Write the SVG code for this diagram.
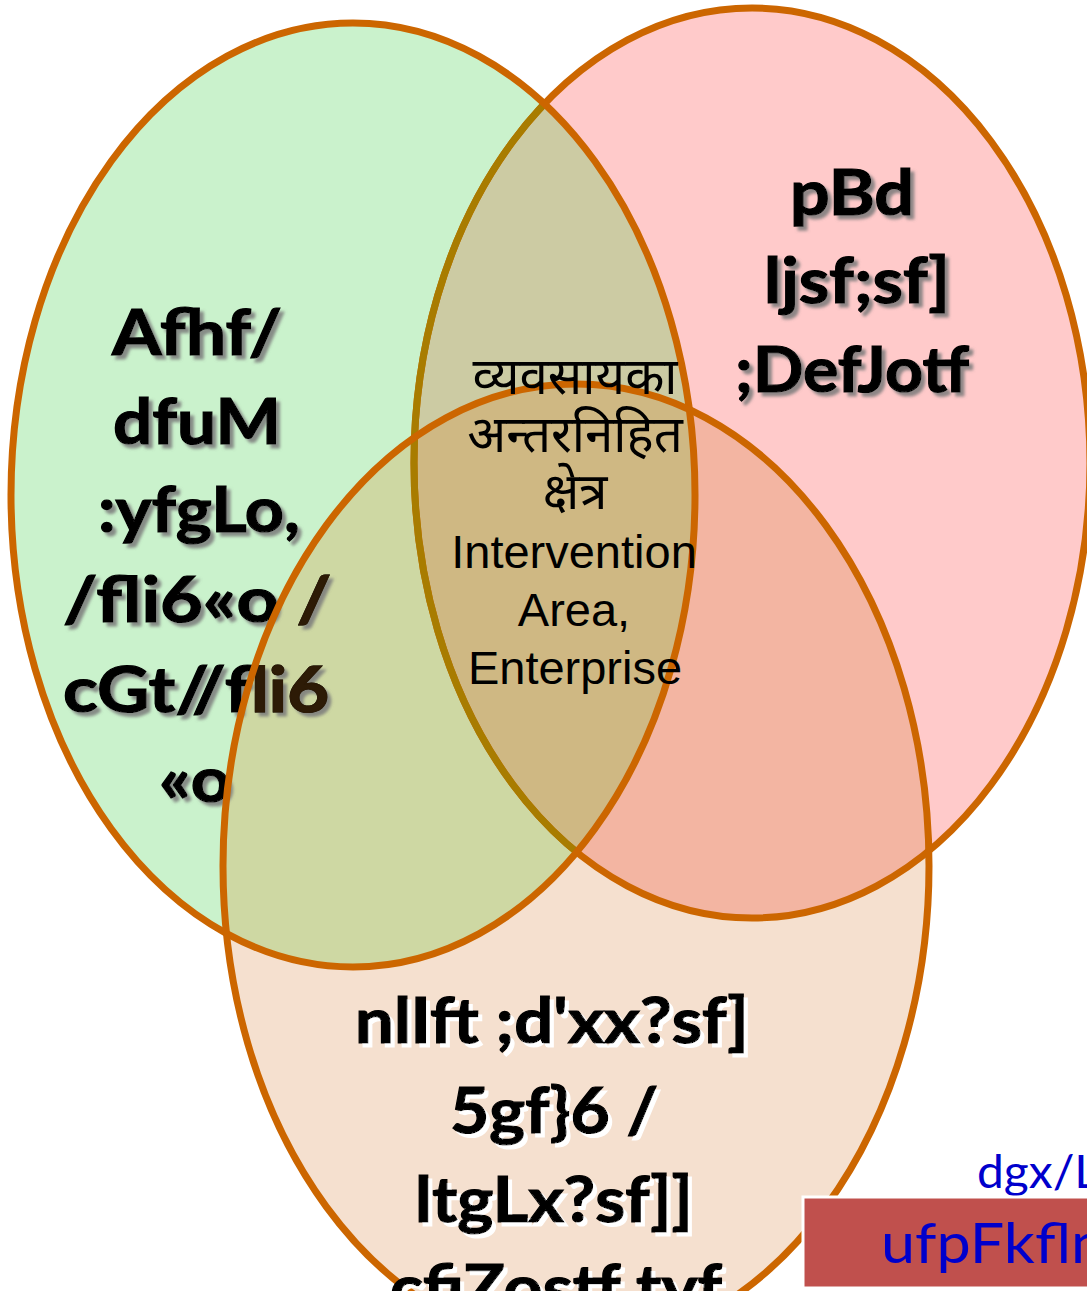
<svg xmlns="http://www.w3.org/2000/svg" xmlns:xlink="http://www.w3.org/1999/xlink" width="1087" height="1291" viewBox="0 0 1087 1291">
<style>
.bold{font-family:Lato,"Open Sans","Liberation Sans",sans-serif;font-weight:700;font-size:63px;text-anchor:middle;stroke-width:1.2px}
.ctr{font-family:"Liberation Sans",Arial,sans-serif;font-size:47px;text-anchor:middle;fill:#000}
.dev{font-family:"Noto Sans Devanagari","Lohit Devanagari","Noto Sans","Liberation Sans",sans-serif;font-size:51px;text-anchor:middle;fill:#000}
.blue{font-family:Lato,"Open Sans","Liberation Sans",sans-serif;fill:#0000cc}
.ring{fill:none;stroke:#cc6600;stroke-width:7}
</style>
<defs>
<clipPath id="cG"><ellipse cx="353" cy="495" rx="342" ry="472"/></clipPath>
<clipPath id="cP"><ellipse cx="752" cy="463" rx="338" ry="455"/></clipPath>
<clipPath id="cB"><ellipse cx="576" cy="866" rx="353" ry="482"/></clipPath>
<filter id="sh" x="-10%" y="-10%" width="130%" height="140%">
<feGaussianBlur in="SourceAlpha" stdDeviation="1.6"/>
<feOffset dx="4" dy="4" result="b"/>
<feFlood flood-color="#7a7a7a" flood-opacity="0.85"/>
<feComposite in2="b" operator="in" result="s"/>
<feMerge><feMergeNode in="s"/><feMergeNode in="SourceGraphic"/></feMerge>
</filter>
<filter id="wsh" x="-10%" y="-10%" width="130%" height="140%">
<feOffset in="SourceAlpha" dx="4" dy="4" result="b"/>
<feFlood flood-color="#ffffff"/>
<feComposite in2="b" operator="in" result="s"/>
<feMerge><feMergeNode in="s"/><feMergeNode in="SourceGraphic"/></feMerge>
</filter>
<g id="lt" class="bold">
<text x="197" y="355" textLength="170" lengthAdjust="spacingAndGlyphs">Afhf/</text>
<text x="197" y="444" textLength="168" lengthAdjust="spacingAndGlyphs">dfuM</text>
<text x="199" y="532" textLength="202" lengthAdjust="spacingAndGlyphs">:yfgLo,</text>
<text x="197" y="622" textLength="268" lengthAdjust="spacingAndGlyphs">/fli6«o /</text>
<text x="196" y="712" textLength="266" lengthAdjust="spacingAndGlyphs">cGt//fli6</text>
<text x="195" y="802" textLength="72" lengthAdjust="spacingAndGlyphs">«o</text>
</g>
</defs>
<rect width="1087" height="1291" fill="#ffffff"/>
<g id="circles">
<ellipse cx="353" cy="495" rx="342" ry="472" fill="#caf2cc"/>
<ellipse cx="752" cy="463" rx="338" ry="455" fill="#ffcaca"/>
<ellipse cx="576" cy="866" rx="353" ry="482" fill="#f5e0cf"/>
<ellipse cx="752" cy="463" rx="338" ry="455" fill="#cccba3" clip-path="url(#cG)"/>
<ellipse cx="576" cy="866" rx="353" ry="482" fill="#ced8a3" clip-path="url(#cG)"/>
<ellipse cx="576" cy="866" rx="353" ry="482" fill="#f3b5a2" clip-path="url(#cP)"/>
<g clip-path="url(#cG)"><ellipse cx="576" cy="866" rx="353" ry="482" fill="#cfb883" clip-path="url(#cP)"/></g>
</g>
<g id="label-left">
<use xlink:href="#lt" fill="#000" stroke="#000" filter="url(#sh)"/>
<use xlink:href="#lt" fill="#2d1b06" stroke="#2d1b06" clip-path="url(#cB)"/>
</g>
<g id="connectors">
<ellipse class="ring" cx="752" cy="463" rx="338" ry="455"/>
<ellipse class="ring" cx="752" cy="463" rx="338" ry="455" style="stroke:#a87c00" clip-path="url(#cG)"/>
<ellipse class="ring" cx="353" cy="495" rx="342" ry="472"/>
<ellipse class="ring" cx="576" cy="866" rx="353" ry="482"/>
</g>
<g id="label-right" class="bold" fill="#000" stroke="#000" filter="url(#sh)">
<text x="852" y="215" textLength="124" lengthAdjust="spacingAndGlyphs">pBd</text>
<text x="857" y="303" textLength="186" lengthAdjust="spacingAndGlyphs">ljsf;sf]</text>
<text x="852" y="392" textLength="234" lengthAdjust="spacingAndGlyphs">;DefJotf</text>
</g>
<g id="label-bottom" class="bold" fill="#000" stroke="#000" filter="url(#wsh)">
<text x="552" y="1043" textLength="394" lengthAdjust="spacingAndGlyphs">nlIft ;d'xx?sf]</text>
<text x="554" y="1133" textLength="208" lengthAdjust="spacingAndGlyphs">5gf}6 /</text>
<text x="554" y="1222" textLength="278" lengthAdjust="spacingAndGlyphs">ltgLx?sf]]</text>
<text x="556" y="1310" textLength="332" lengthAdjust="spacingAndGlyphs">cfiZostf tyf</text>
</g>
<g id="label-center">
<text class="dev" x="575" y="394">व्यवसायका</text>
<text class="dev" x="575" y="452">अन्तरनिहित</text>
<text class="dev" x="575" y="509">क्षेत्र</text>
<text class="ctr" x="574" y="568">Intervention</text>
<text class="ctr" x="574" y="626">Area,</text>
<text class="ctr" x="575" y="684">Enterprise</text>
</g>
<g id="label-corner">
<text class="blue" x="977" y="1188" font-size="46" textLength="122" lengthAdjust="spacingAndGlyphs">dgx/L</text>
<rect x="803" y="1197" width="290" height="91" fill="#c0504d" stroke="#ffffff" stroke-width="3"/>
<text class="blue" x="881" y="1263" font-size="57" textLength="224" lengthAdjust="spacingAndGlyphs">ufpFkfln</text>
</g>
</svg>
